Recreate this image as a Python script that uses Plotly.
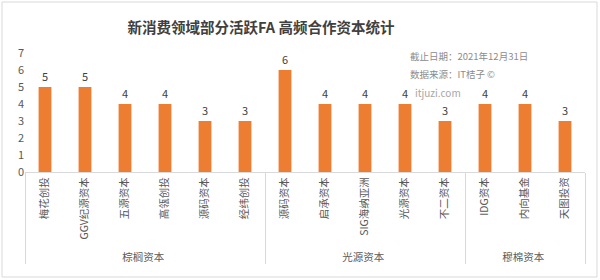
import plotly.graph_objects as go

groups = ["棕榈资本"] * 6 + ["光源资本"] * 5 + ["穆棉资本"] * 3
categories = ["梅花创投", "GGV纪源资本", "五源资本", "高瓴创投", "源码资本", "经纬创投",
              "源码资本", "启承资本", "SIG海纳亚洲", "光源资本", "不二资本",
              "IDG资本", "内向基金", "天图投资"]
values = [5, 5, 4, 4, 3, 3, 6, 4, 4, 4, 3, 4, 4, 3]
y_ticks = [0, 1, 2, 3, 4, 5, 6, 7]

FONT = "Noto Sans CJK SC"
fig = go.Figure()
fig.add_trace(go.Bar(
    x=[groups, categories], y=values,
    marker=dict(color="#ED7D31", line=dict(width=0)),
    text=values, textposition="outside",
    textfont=dict(family=FONT, size=11, color="#404040"),
    cliponaxis=False,
))

fig.update_layout(
    width=600, height=280,
    margin=dict(l=25, r=15, t=53, b=108),
    paper_bgcolor="white", plot_bgcolor="white",
    bargap=0.68,
    showlegend=False,
    font=dict(family=FONT, color="#595959"),
    title=dict(text="<b>新消费领域部分活跃FA 高频合作资本统计</b>",
               x=261 / 600, xanchor="center", y=1 - 28 / 280, yanchor="middle",
               font=dict(family=FONT, size=14.5, color="#404040")),
    xaxis=dict(type="multicategory", tickangle=-90,
               tickfont=dict(family=FONT, size=10.5, color="#595959"),
               showdividers=True, dividercolor="#d9d9d9", dividerwidth=1,
               showline=True, linecolor="#d9d9d9", linewidth=1,
               showgrid=False, ticks=""),
    yaxis=dict(range=[0, 7], tickvals=y_ticks, showgrid=False, zeroline=False,
               showline=False, ticks="",
               tickfont=dict(family=FONT, size=11, color="#595959")),
)

fig.add_annotation(xref="paper", yref="paper", x=(408 - 25) / 560, y=(172 - 56) / 119,
                   text="截止日期：2021年12月31日", showarrow=False,
                   xanchor="left", yanchor="middle",
                   font=dict(family=FONT, size=9.5, color="#8c8c8c"))
fig.add_annotation(xref="paper", yref="paper", x=(408 - 25) / 560, y=(172 - 74) / 119,
                   text="数据来源：IT桔子 ©", showarrow=False,
                   xanchor="left", yanchor="middle",
                   font=dict(family=FONT, size=9.5, color="#8c8c8c"))
fig.add_annotation(xref="paper", yref="paper", x=(413 - 25) / 560, y=(172 - 92) / 119,
                   text="itjuzi.com", showarrow=False,
                   xanchor="left", yanchor="middle",
                   font=dict(family=FONT, size=10, color="#a6a6a6"))

fig.add_shape(type="rect", xref="paper", yref="paper",
              x0=(2 - 25) / 560, x1=(597 - 25) / 560,
              y0=(172 - 277) / 119, y1=(172 - 2) / 119,
              line=dict(color="#d9d9d9", width=1), fillcolor="rgba(0,0,0,0)", layer="below")

fig.write_html("out.html")
